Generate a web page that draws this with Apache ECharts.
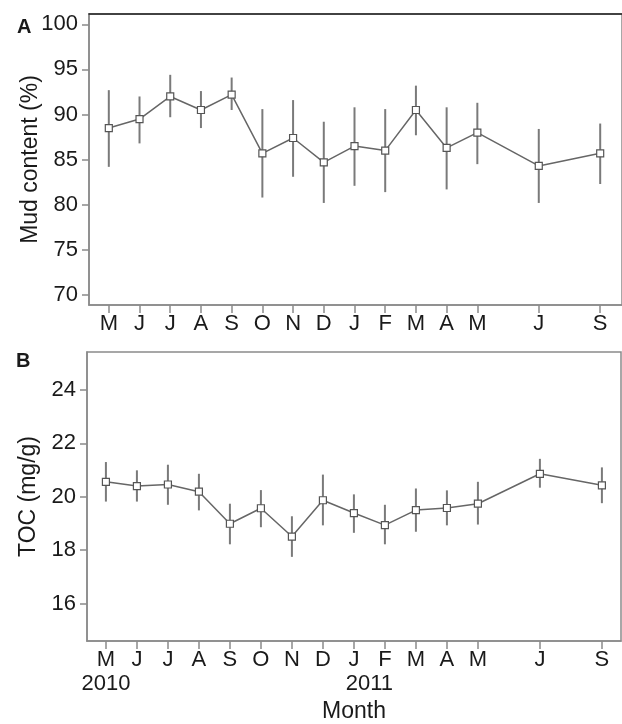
<!DOCTYPE html>
<html>
<head>
<meta charset="utf-8">
<script src="https://cdn.jsdelivr.net/npm/echarts@6/dist/echarts.min.js"></script>
<style>
  html, body { margin: 0; padding: 0; background: #fff; }
  #chart { width: 622px; height: 724px; }
</style>
</head>
<body>
<div id="chart"></div>
<script>
// ---- data ----
const monthLabels = ['M','J','J','A','S','O','N','D','J','F','M','A','M','J','S'];
const monthIndex  = [0,1,2,3,4,5,6,7,8,9,10,11,12,14,16]; // months since May 2010
const yearLabels  = ['2010','2011'];
const yearPositions = [0, 8.5];

const mudMean = [88.5, 89.5, 92.0, 90.5, 92.2, 85.7, 87.4, 84.7, 86.5, 86.0, 90.5, 86.3, 88.0, 84.3, 85.7];
const mudLow  = [84.2, 86.8, 89.7, 88.5, 90.5, 80.8, 83.1, 80.2, 82.1, 81.4, 87.7, 81.7, 84.5, 80.2, 82.3];
const mudHigh = [92.7, 92.0, 94.4, 92.6, 94.1, 90.6, 91.6, 89.2, 90.8, 90.6, 93.2, 90.8, 91.3, 88.4, 89.0];

const tocMean = [20.56, 20.40, 20.46, 20.19, 18.99, 19.57, 18.51, 19.87, 19.39, 18.94, 19.50, 19.58, 19.74, 20.86, 20.43];
const tocLow  = [19.82, 19.82, 19.70, 19.49, 18.22, 18.86, 17.75, 18.93, 18.65, 18.22, 18.69, 18.93, 18.96, 20.34, 19.76];
const tocHigh = [21.30, 20.99, 21.20, 20.86, 19.74, 20.25, 19.27, 20.83, 20.09, 19.70, 20.31, 20.24, 20.56, 21.42, 21.10];

const mudTicks = [70, 75, 80, 85, 90, 95, 100];
const tocTicks = [16, 18, 20, 22, 24];

// ---- styling ----
const FONT = "'Liberation Sans', Arial, sans-serif";
const AXIS_GRAY = '#8a8a8a';
const TEXT = '#1a1a1a';

const chart = echarts.init(document.getElementById('chart'), null, { renderer: 'canvas' });

function monthAxis(gridIndex, min, max, extra) {
  return Object.assign({
    type: 'value', gridIndex, min, max,
    splitLine: { show: false },
    axisLine: { show: true, onZero: false, lineStyle: { color: AXIS_GRAY, width: 1.5 } },
    axisTick: { show: true, length: 8, customValues: monthIndex, lineStyle: { color: AXIS_GRAY, width: 1.5 } },
    axisLabel: {
      customValues: monthIndex, margin: 8,
      fontFamily: FONT, fontSize: 22, color: TEXT,
      formatter: v => monthLabels[monthIndex.indexOf(v)]
    }
  }, extra || {});
}

function valueAxis(gridIndex, min, max, ticks, name, nameGap) {
  return {
    type: 'value', gridIndex, min, max,
    name, nameLocation: 'middle', nameGap, nameRotate: 90, nameMoveOverlap: false,
    nameTextStyle: { fontFamily: FONT, fontSize: 23, color: TEXT },
    splitLine: { show: false },
    axisLine: { show: true, onZero: false, lineStyle: { color: AXIS_GRAY, width: 1.5 } },
    axisTick: { show: true, length: 7, customValues: ticks, lineStyle: { color: AXIS_GRAY, width: 1.5 } },
    axisLabel: { customValues: ticks, margin: 11, fontFamily: FONT, fontSize: 22, color: TEXT }
  };
}

function errorSeries(xAxisIndex, yAxisIndex, low, high) {
  return {
    type: 'custom', xAxisIndex, yAxisIndex, z: 2, silent: true,
    data: monthIndex.map((m, i) => [m, low[i], high[i]]),
    encode: { x: 0, y: [1, 2] },
    renderItem: (params, api) => {
      const p1 = api.coord([api.value(0), api.value(1)]);
      const p2 = api.coord([api.value(0), api.value(2)]);
      return { type: 'line', shape: { x1: p1[0], y1: p1[1], x2: p2[0], y2: p2[1] },
               style: { stroke: '#7a7a7a', lineWidth: 2 } };
    }
  };
}

function meanSeries(xAxisIndex, yAxisIndex, mean) {
  return {
    type: 'line', xAxisIndex, yAxisIndex, z: 3, silent: true,
    data: monthIndex.map((m, i) => [m, mean[i]]),
    symbol: 'rect', symbolSize: 7, showAllSymbol: true,
    itemStyle: { color: '#ffffff', borderColor: '#555555', borderWidth: 1.2 },
    lineStyle: { color: '#666666', width: 1.5 }
  };
}

const option = {
  animation: false,
  backgroundColor: '#ffffff',
  title: [
    { text: 'A', left: 17, top: 17, padding: 0, textStyle: { fontFamily: FONT, fontSize: 20, fontWeight: 'bold', color: TEXT } },
    { text: 'B', left: 16, top: 351, padding: 0, textStyle: { fontFamily: FONT, fontSize: 20, fontWeight: 'bold', color: TEXT } }
  ],
  grid: [
    { left: 89, top: 14, width: 538, height: 291, show: true, borderColor: AXIS_GRAY, borderWidth: 1.5, backgroundColor: 'transparent' },
    { left: 87, top: 352, width: 534, height: 292.5, show: true, borderColor: AXIS_GRAY, borderWidth: 1.5, backgroundColor: 'transparent' }
  ],
  xAxis: [
    monthAxis(0, -0.645, 16.71),
    monthAxis(1, -0.61, 16.616, {
      name: 'Month', nameLocation: 'middle', nameGap: 59, nameMoveOverlap: false,
      nameTextStyle: { fontFamily: FONT, fontSize: 23, color: TEXT }
    }),
    // year labels beneath panel B
    {
      type: 'value', gridIndex: 1, min: -0.61, max: 16.616, position: 'bottom',
      splitLine: { show: false }, axisLine: { show: false }, axisTick: { show: false },
      axisLabel: {
        customValues: yearPositions, margin: 32,
        fontFamily: FONT, fontSize: 22, color: TEXT,
        formatter: v => yearLabels[yearPositions.indexOf(v)]
      }
    },
    // darker top frame line of panel A
    {
      type: 'value', gridIndex: 0, min: -0.645, max: 16.71, position: 'top',
      splitLine: { show: false }, axisTick: { show: false }, axisLabel: { show: false },
      axisLine: { show: true, onZero: false, lineStyle: { color: '#222222', width: 1.5 } }
    }
  ],
  yAxis: [
    valueAxis(0, 68.89, 101.14, mudTicks, 'Mud content (%)', 47),
    valueAxis(1, 14.6, 25.42, tocTicks, 'TOC (mg/g)', 47)
  ],
  series: [
    errorSeries(0, 0, mudLow, mudHigh),
    meanSeries(0, 0, mudMean),
    errorSeries(1, 1, tocLow, tocHigh),
    meanSeries(1, 1, tocMean)
  ]
};

chart.setOption(option);
</script>
</body>
</html>
